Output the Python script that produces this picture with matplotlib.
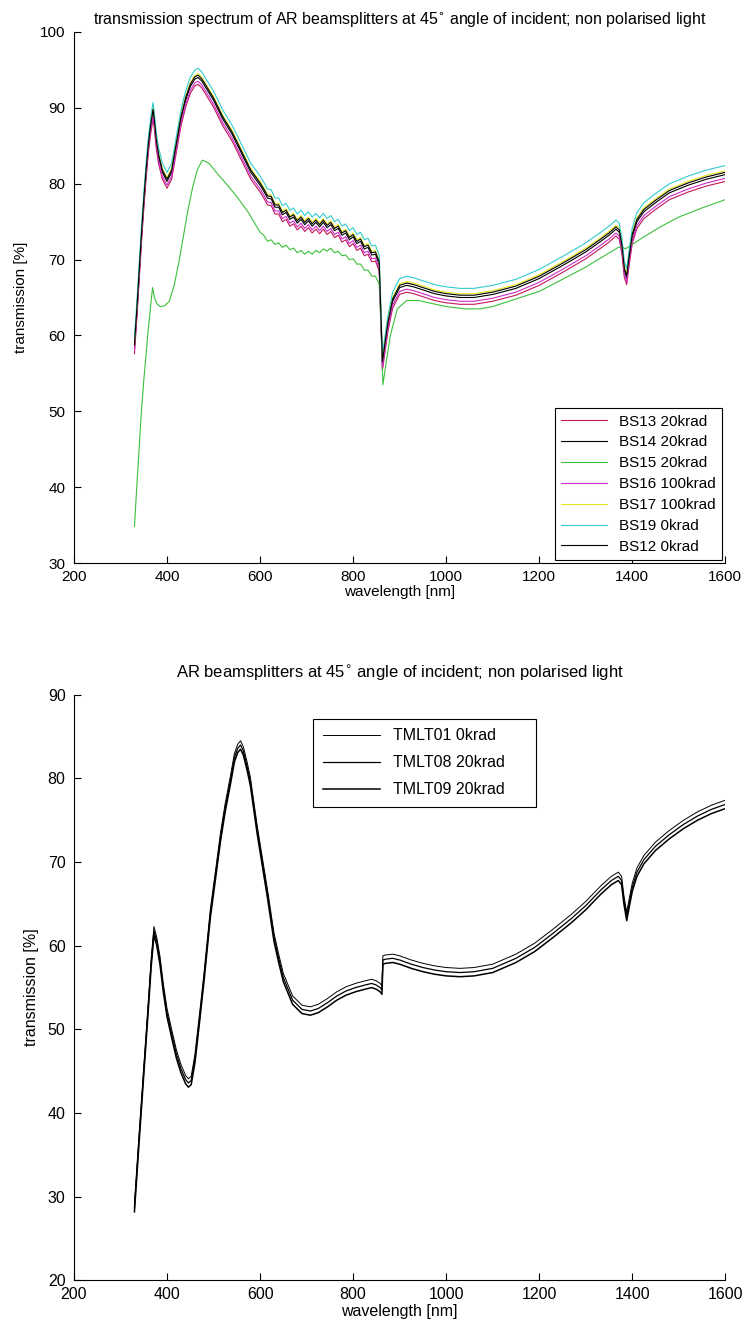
import numpy as np
import matplotlib
matplotlib.use("Agg")
import matplotlib.pyplot as plt

plt.rcParams['font.family'] = ['Liberation Sans', 'DejaVu Sans']

# --- upper panel: BS samples, common curve shape -------------------------
wl_bs = [330, 335, 340, 345, 350, 355, 360, 365, 370, 373, 377, 382, 390, 400,
         410, 420, 430, 440, 450, 460, 467, 475, 485, 500, 520, 540, 560, 580, 600,
         608, 616, 624, 632, 640, 648, 656, 664, 672, 680, 688, 696, 704, 712,
         720, 728, 736, 744, 752, 760, 768, 776, 784, 792, 800, 808, 816, 824,
         832, 840, 848, 856,
         860, 863, 868, 875, 885, 900, 915, 930, 950, 975, 1000, 1030, 1060,
         1100, 1150, 1200, 1250, 1300, 1330, 1350, 1365, 1372, 1378, 1383, 1388,
         1393, 1400, 1410, 1425, 1450, 1480, 1520, 1560, 1600]
t_bs = [58.5, 63.0, 68.0, 73.0, 77.5, 81.5, 85.0, 87.5, 89.5, 88.0, 85.5, 83.5, 81.5, 80.3,
        81.5, 85.0, 88.5, 91.0, 92.8, 93.8, 94.0, 93.5, 92.5, 91.0, 88.5, 86.5, 84.0, 81.5, 79.8,
        79.0, 78.1, 78.0, 76.9, 76.9, 75.9, 76.2, 75.3, 75.6, 74.8, 75.3, 74.6, 75.1, 74.4,
        74.9, 74.3, 74.9, 74.2, 74.6, 73.8, 74.1, 73.2, 73.5, 72.6, 73.0, 72.1, 72.4, 71.4,
        71.6, 70.6, 70.7, 69.4,
        62.0, 56.3, 58.5, 61.5, 64.5, 66.3, 66.6, 66.4, 66.0, 65.5, 65.2, 65.0, 65.0,
        65.4, 66.2, 67.5, 69.2, 71.0, 72.3, 73.2, 74.0, 73.6, 71.5, 68.5, 67.6,
        70.0, 73.0, 75.0, 76.3, 77.5, 78.8, 79.8, 80.6, 81.2]

# BS15 sits well below the others
wl_bs15 = [330, 335, 340, 345, 350, 355, 360, 365, 369, 373, 378, 385, 395, 405,
           415, 425, 435, 445, 455, 465, 476, 490, 510, 530, 550, 575, 600,
           608, 616, 624, 632, 640, 648, 656, 664, 672, 680, 688, 696, 704, 712,
           720, 728, 736, 744, 752, 760, 768, 776, 784, 792, 800, 808, 816, 824,
           832, 840, 848, 856,
           860, 864, 870, 880, 895, 915, 940, 970, 1000, 1040, 1074, 1100, 1150,
           1200, 1247, 1300, 1340, 1370, 1378, 1385, 1395, 1420, 1460, 1500, 1550, 1600]
t_bs15 = [34.8, 40.0, 45.0, 50.0, 54.0, 57.5, 61.0, 64.0, 66.3, 65.0, 64.2, 63.8, 63.9, 64.5,
          66.5, 69.5, 73.0, 76.5, 79.5, 81.8, 83.1, 82.7, 81.2, 79.8, 78.3, 76.2, 73.6,
          73.2, 72.4, 72.6, 72.0, 72.2, 71.6, 71.9, 71.3, 71.5, 70.9, 71.2, 70.7, 71.1, 70.7,
          71.2, 70.9, 71.4, 71.1, 71.5, 70.9, 71.1, 70.5, 70.6, 70.0, 70.1, 69.4, 69.4, 68.6,
          68.6, 67.8, 67.8, 66.8,
          61.0, 53.5, 56.0, 60.0, 63.5, 64.6, 64.6, 64.2, 63.8, 63.5, 63.5, 63.8, 64.8,
          65.8, 67.3, 69.0, 70.5, 71.6, 71.7, 71.4, 71.8, 72.8, 74.3, 75.6, 76.8, 77.9]

bs_labels = ['BS13 20krad', 'BS14 20krad', 'BS15 20krad', 'BS16 100krad',
             'BS17 100krad', 'BS19 0krad', 'BS12 0krad']
bs_colors = ['#c0185a', 'black', '#3cc03c', '#cc2ccc', '#e6e619', '#33cccc', 'black']
bs_offsets = [-0.9, 0.0, 0.0, -0.5, 0.5, 1.2, 0.3]

# --- lower panel: TMLT samples --------------------------------------------
wl_tm = [330, 340, 350, 360, 366, 372, 378, 385, 392, 400, 410, 420, 430, 440, 446,
         452, 460, 471, 480, 493, 505, 515, 525, 536, 545, 552, 558, 564, 572, 579,
         594, 616, 630, 640, 650, 670, 690, 708, 725, 745, 765, 785, 805, 825, 840,
         850, 858, 862, 864, 870, 885, 900, 925, 950, 975, 1000, 1030, 1060, 1100,
         1150, 1190, 1230, 1270, 1300, 1333, 1355, 1370, 1377, 1382, 1388, 1393,
         1400, 1410, 1425, 1450, 1480, 1510, 1540, 1570, 1600]
t_tm = [28.7, 37.0, 45.0, 53.0, 58.0, 61.8, 60.5, 58.2, 55.0, 52.0, 49.5, 47.1, 45.3, 44.0, 43.6,
        43.9, 46.5, 51.9, 56.5, 63.8, 68.8, 73.0, 76.5, 79.7, 82.5, 83.6, 84.0, 83.3, 81.5, 79.7,
        73.8, 66.2, 61.0, 58.5, 56.2, 53.5, 52.4, 52.2, 52.5, 53.2, 54.0, 54.6, 55.0, 55.3, 55.5,
        55.3, 55.0, 54.7, 58.3, 58.4, 58.5, 58.3, 57.8, 57.4, 57.1, 56.9, 56.8, 56.9, 57.3,
        58.5, 59.8, 61.5, 63.3, 64.8, 66.7, 67.8, 68.3, 67.8, 65.5, 63.5, 65.0,
        67.0, 68.8, 70.3, 71.9, 73.3, 74.5, 75.5, 76.3, 76.9]

tm_labels = ['TMLT01 0krad', 'TMLT08 20krad', 'TMLT09 20krad']
tm_offsets = [0.5, 0.0, -0.5]
tm_widths = [0.7, 0.9, 1.1]

fig = plt.figure(figsize=(7.47, 13.31), dpi=100)
ax1 = fig.add_axes([0.099, 0.577, 0.872, 0.399])
ax2 = fig.add_axes([0.099, 0.038, 0.872, 0.440])


def style_axes(ax, ylo, yhi, fs, ypad):
    ax.set_xlim(200, 1600)
    ax.set_ylim(ylo, yhi)
    ax.set_xticks(range(200, 1601, 200))
    ax.set_yticks(range(ylo, yhi + 1, 10))
    ax.spines['top'].set_visible(False)
    ax.spines['right'].set_visible(False)
    ax.tick_params(direction='in', length=5, width=0.8, labelsize=fs)
    ax.tick_params(axis='x', pad=5)
    ax.tick_params(axis='y', pad=6)
    ax.set_xlabel('wavelength [nm]', fontsize=fs, labelpad=1)
    ax.set_ylabel('transmission [%]', fontsize=fs, labelpad=ypad)


for lab, col, off in zip(bs_labels, bs_colors, bs_offsets):
    if lab.startswith('BS15'):
        ax1.plot(wl_bs15, t_bs15, color=col, lw=0.8, label=lab)
    else:
        ax1.plot(wl_bs, np.array(t_bs) + off, color=col, lw=0.8, label=lab)

style_axes(ax1, 30, 100, 11, 9)
ax1.set_title('transmission spectrum of AR beamsplitters at 45$^{\\circ}$ angle of incident; non polarised light',
              fontsize=11.5, pad=6)
leg1 = ax1.legend(loc='lower right', fontsize=11, handlelength=3.0, labelspacing=0.45,
                  borderaxespad=0.2, fancybox=False, edgecolor='black', framealpha=1)
leg1.get_frame().set_linewidth(0.8)

for lab, off, lw in zip(tm_labels, tm_offsets, tm_widths):
    ax2.plot(wl_tm, np.array(t_tm) + off, color='black', lw=lw, label=lab)

style_axes(ax2, 20, 90, 11.5, 6)
ax2.set_title('AR beamsplitters at 45$^{\\circ}$ angle of incident; non polarised light',
              fontsize=12, pad=12)
leg2 = ax2.legend(loc='upper left', bbox_to_anchor=(0.367, 0.75, 0.343, 0.209), mode='expand',
                  fontsize=11.5, handlelength=3.6, labelspacing=0.75, borderpad=0.6,
                  borderaxespad=0, fancybox=False, edgecolor='black', framealpha=1)
leg2.get_frame().set_linewidth(0.8)

fig.savefig('out.png', dpi=100)
